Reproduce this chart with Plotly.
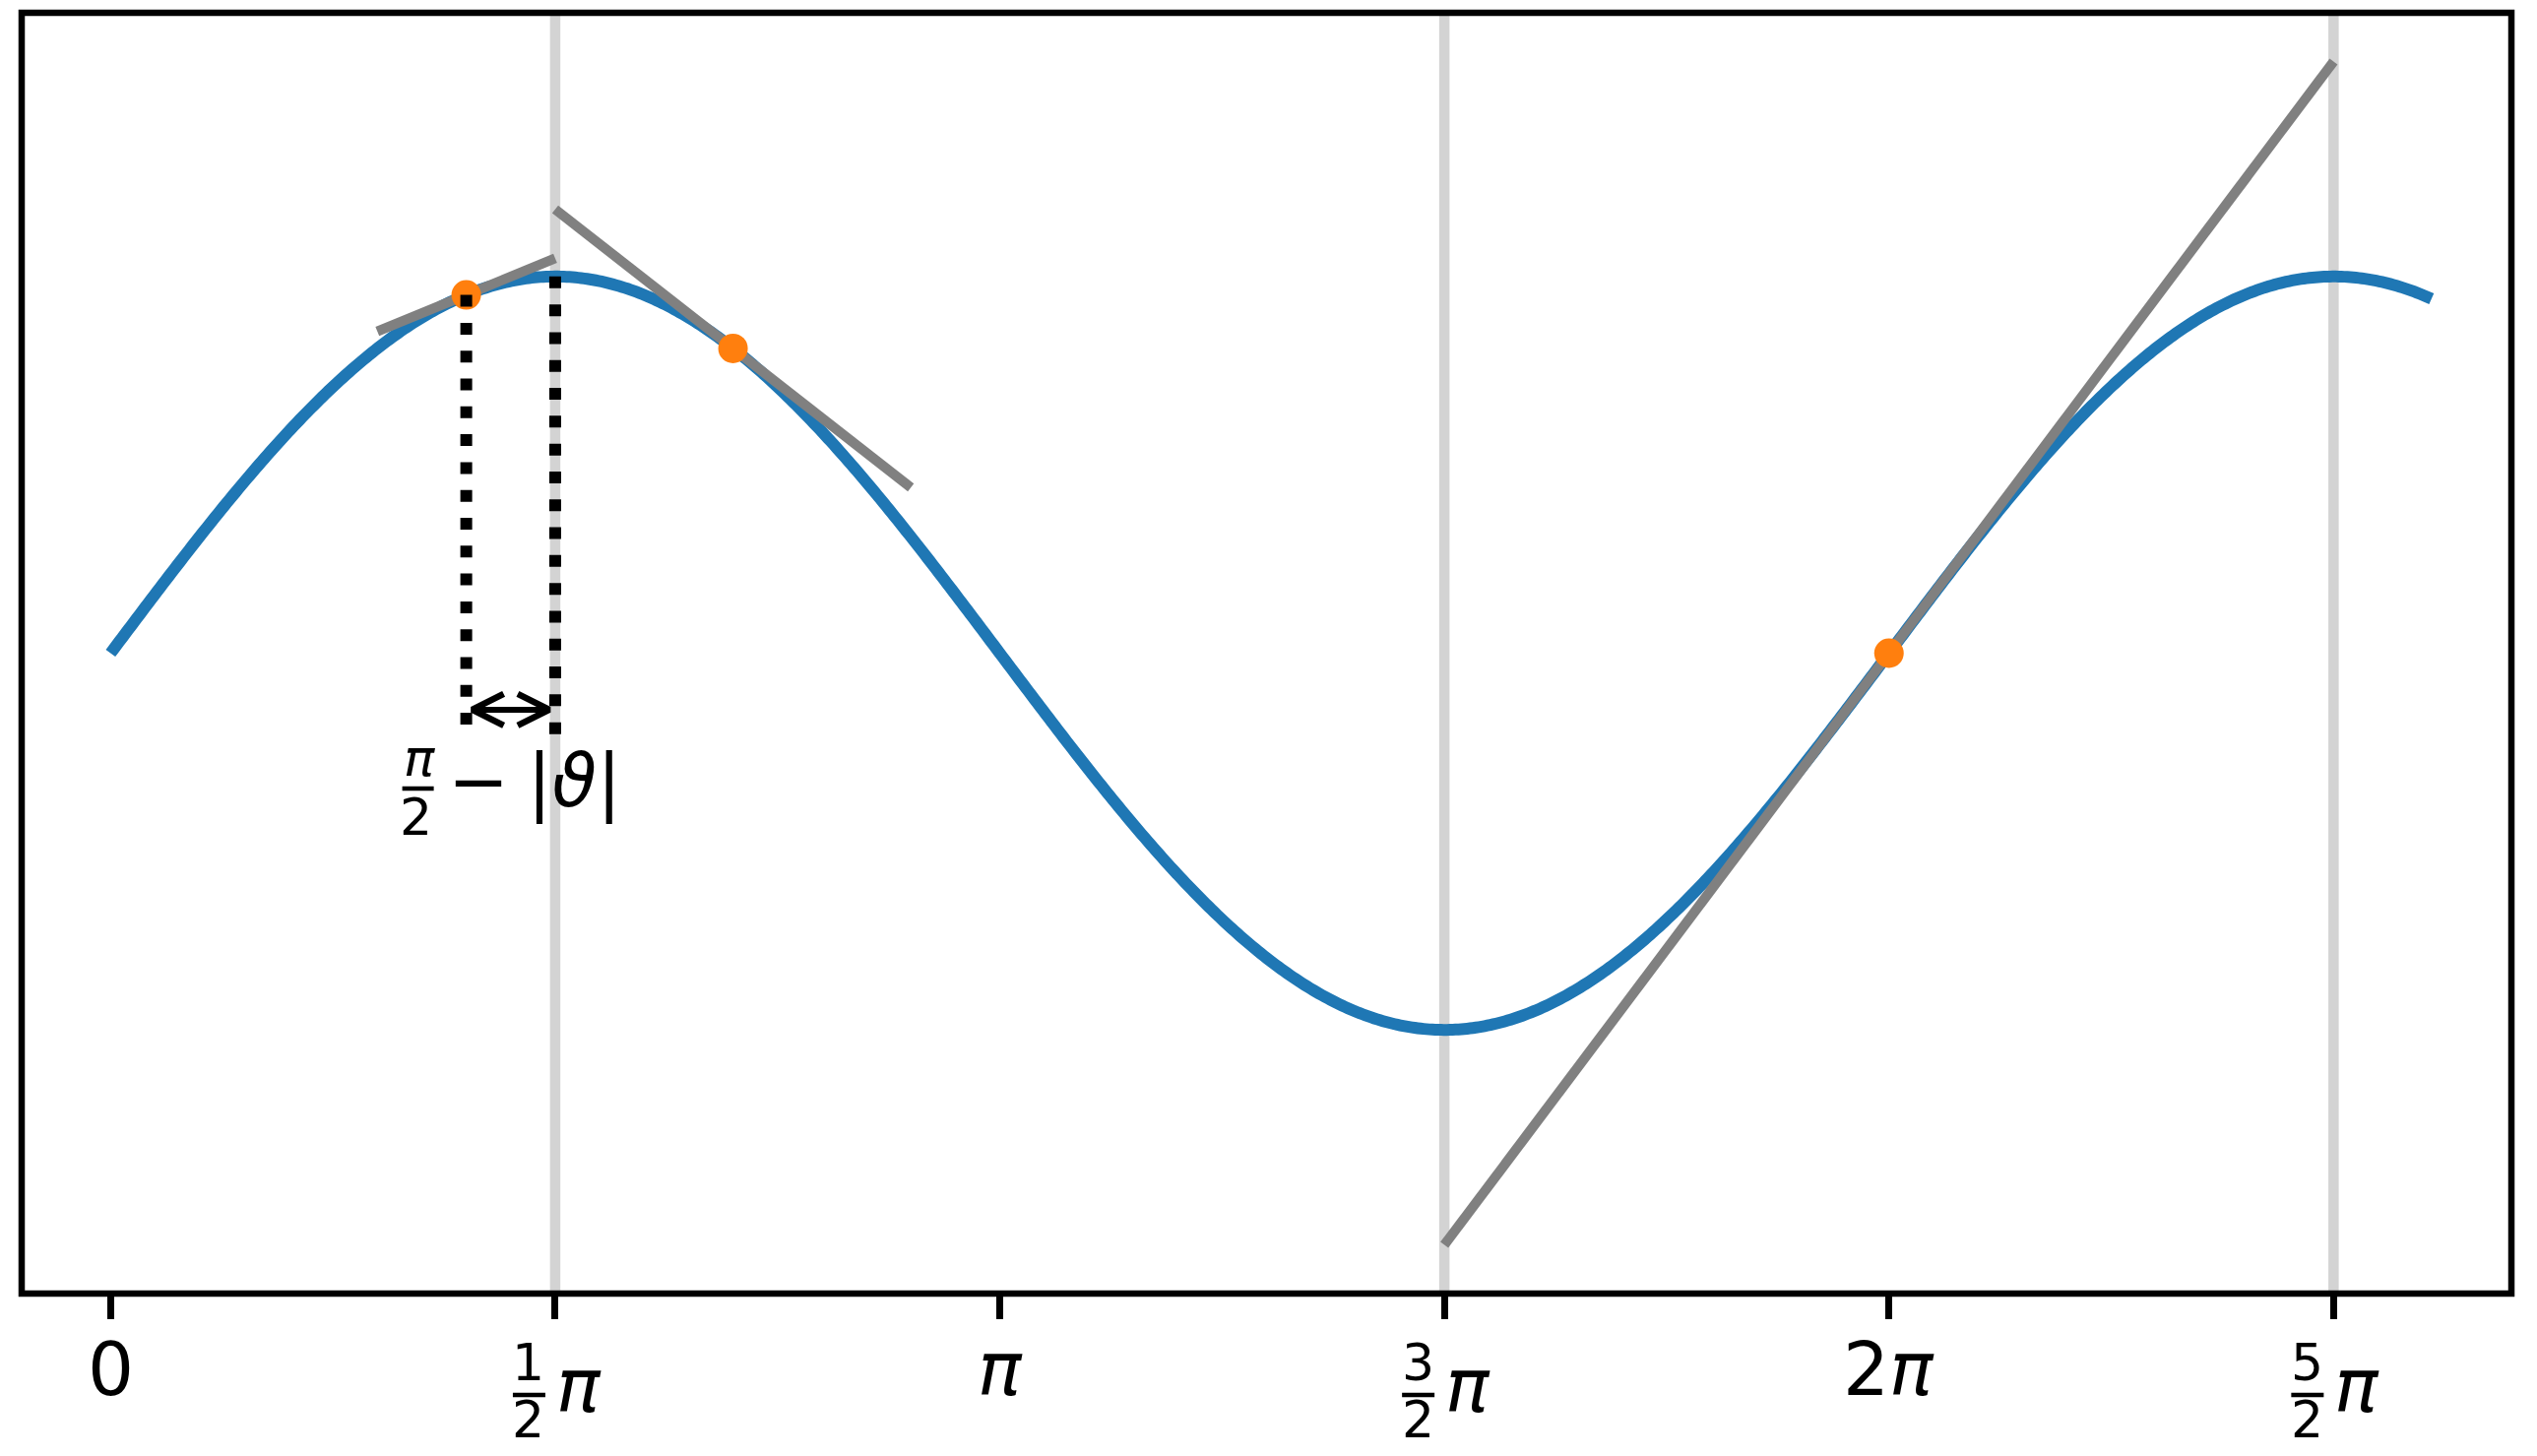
import numpy as np
import plotly.graph_objects as go

PI = np.pi

# ---- data ----
curve_x_start = 0.0
curve_x_end = 8.2                      # radians (curve ends at ~2.61 pi)
tangent_x = [0.4 * PI, 0.7 * PI, 2.0 * PI]     # tangent points (orange dots)
tangent_lo = [0.3 * PI, 0.5 * PI, 1.5 * PI]    # tangent segment starts
tangent_hi = [0.5 * PI, 0.9 * PI, 2.5 * PI]    # tangent segment ends
vline_x = [0.5 * PI, 1.5 * PI, 2.5 * PI]       # light grey guides
dotted_x = [0.4 * PI, 0.5 * PI]                # dotted drop lines
dotted_bottom = -0.23
arrow_y = -0.15
tick_vals = [0.0, 0.5 * PI, PI, 1.5 * PI, 2.0 * PI, 2.5 * PI]
tick_plain = ["0", None, "<i>π</i>", None, "2<i>π</i>", None]
tick_num = [None, "1", None, "3", None, "5"]
tick_den = [None, "2", None, "2", None, "2"]
x_range = [-0.1 * PI, 2.7 * PI]
y_range = [-1.7, 1.7]

BLUE = "#1f77b4"
ORANGE = "#ff7f0e"
GRAY = "#808080"
LIGHT = "#d3d3d3"
FONT = "DejaVu Sans"

# figure geometry (pixels)
FIG_W, FIG_H = 2561, 1463
M_L, M_R, M_T, M_B = 14, 18, 5, 157
PX_PER_X = (FIG_W - M_L - M_R) / (x_range[1] - x_range[0])
PX_PER_Y = (FIG_H - M_T - M_B) / (y_range[1] - y_range[0])

xs = np.linspace(curve_x_start, curve_x_end, 800)
ys = np.sin(xs)

fig = go.Figure()

# light grey vertical guides
for vx in vline_x:
    fig.add_trace(go.Scatter(x=[vx, vx], y=y_range, mode="lines",
                             line=dict(color=LIGHT, width=10.5),
                             hoverinfo="skip", showlegend=False))

# sine curve
fig.add_trace(go.Scatter(x=xs, y=ys, mode="lines",
                         line=dict(color=BLUE, width=12, simplify=False),
                         showlegend=False))

# tangent lines
for tx, lo, hi in zip(tangent_x, tangent_lo, tangent_hi):
    slope = np.cos(tx)
    y0 = np.sin(tx)
    fig.add_trace(go.Scatter(x=[lo, hi], y=[y0 + slope * (lo - tx), y0 + slope * (hi - tx)],
                             mode="lines", line=dict(color=GRAY, width=10),
                             showlegend=False))

# tangent points
fig.add_trace(go.Scatter(x=tangent_x, y=[np.sin(t) for t in tangent_x], mode="markers",
                         marker=dict(color=ORANGE, size=30, line=dict(width=0)),
                         showlegend=False))

# dotted drop lines
for dx in dotted_x:
    fig.add_trace(go.Scatter(x=[dx, dx], y=[np.sin(dx), dotted_bottom], mode="lines",
                             line=dict(color="black", width=12, dash="12px,16.3px"),
                             showlegend=False))

# double-headed arrow (open chevron heads, like matplotlib '<->')
shrink = 6 / PX_PER_X
head_len = 32 / PX_PER_X
head_half = 16 / PX_PER_Y
xa = dotted_x[0] + shrink
xb = dotted_x[1] - shrink
fig.add_trace(go.Scatter(x=[xa, xb], y=[arrow_y, arrow_y], mode="lines",
                         line=dict(color="black", width=6), showlegend=False))
fig.add_trace(go.Scatter(x=[xa + head_len, xa, xa + head_len],
                         y=[arrow_y + head_half, arrow_y, arrow_y - head_half],
                         mode="lines", line=dict(color="black", width=6.5), showlegend=False))
fig.add_trace(go.Scatter(x=[xb - head_len, xb, xb - head_len],
                         y=[arrow_y + head_half, arrow_y, arrow_y - head_half],
                         mode="lines", line=dict(color="black", width=6.5), showlegend=False))

annotations = []
shapes = []

# label  pi/2 - |theta|
annotations.append(dict(x=dotted_x[0], y=arrow_y, xref="x", yref="y", text="<i>π</i>",
                        showarrow=False, xanchor="center", yanchor="middle",
                        xshift=-48, yshift=-49, font=dict(family=FONT, size=52, color="black")))
annotations.append(dict(x=dotted_x[0], y=arrow_y, xref="x", yref="y", text="2",
                        showarrow=False, xanchor="center", yanchor="middle",
                        xshift=-51, yshift=-109, font=dict(family=FONT, size=52, color="black")))
shapes.append(dict(type="line", xref="x", yref="y", xsizemode="pixel", ysizemode="pixel",
                   xanchor=dotted_x[0], yanchor=arrow_y, x0=-65, x1=-33, y0=-80, y1=-80,
                   line=dict(color="black", width=4.5)))
annotations.append(dict(x=dotted_x[0], y=arrow_y, xref="x", yref="y", text="−\u2005|<i>ϑ</i>|",
                        showarrow=False, xanchor="left", yanchor="middle",
                        xshift=-21, yshift=-73, font=dict(family=FONT, size=74, color="black")))

# tick labels
for tv, plain, num, den in zip(tick_vals, tick_plain, tick_num, tick_den):
    if plain is not None:
        annotations.append(dict(x=tv, y=0, xref="x", yref="paper", text=plain,
                                showarrow=False, xanchor="center", yanchor="middle",
                                yshift=-77, font=dict(family=FONT, size=74, color="black")))
    else:
        annotations.append(dict(x=tv, y=0, xref="x", yref="paper", text=num,
                                showarrow=False, xanchor="center", yanchor="middle",
                                xshift=-27, yshift=-70, font=dict(family=FONT, size=52, color="black")))
        annotations.append(dict(x=tv, y=0, xref="x", yref="paper", text=den,
                                showarrow=False, xanchor="center", yanchor="middle",
                                xshift=-27, yshift=-128, font=dict(family=FONT, size=52, color="black")))
        annotations.append(dict(x=tv, y=0, xref="x", yref="paper", text="<i>π</i>",
                                showarrow=False, xanchor="center", yanchor="middle",
                                xshift=24, yshift=-94, font=dict(family=FONT, size=74, color="black")))
        shapes.append(dict(type="line", xref="x", yref="paper", xsizemode="pixel", ysizemode="pixel",
                           xanchor=tv, yanchor=0, x0=-43, x1=-10, y0=-103, y1=-103,
                           line=dict(color="black", width=4.5)))

# frame
shapes.append(dict(type="rect", xref="paper", yref="paper", x0=0, x1=1, y0=0, y1=1,
                   line=dict(color="black", width=6.5), layer="above"))

# page body has an 8px default margin: size the figure to fit inside the window
fig.update_layout(
    width=FIG_W, height=FIG_H,
    margin=dict(l=M_L, r=M_R, t=M_T, b=M_B, pad=0),
    paper_bgcolor="white", plot_bgcolor="white",
    showlegend=False,
    annotations=annotations,
    shapes=shapes,
    xaxis=dict(range=x_range, showgrid=False, zeroline=False, showline=False,
               tickvals=tick_vals, showticklabels=False, ticks="outside",
               ticklen=25, tickwidth=6.5, tickcolor="black"),
    yaxis=dict(range=y_range, showgrid=False, zeroline=False, showline=False,
               showticklabels=False, ticks=""),
)

fig.write_html("out.html")
